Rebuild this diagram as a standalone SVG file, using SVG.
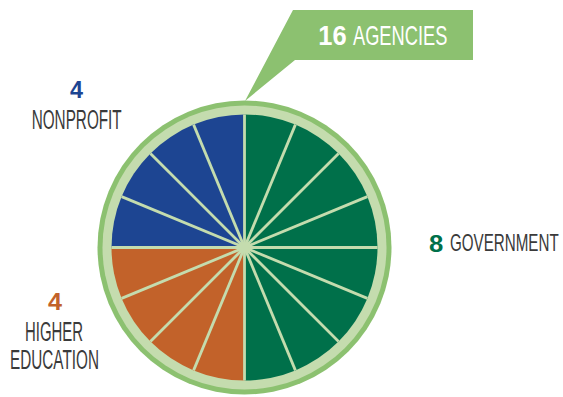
<svg xmlns="http://www.w3.org/2000/svg" width="563" height="397" viewBox="0 0 563 397">
  <style>
    .lbl { font-family: "Liberation Sans", "Noto Sans", Arial, sans-serif; fill: #3a3a3a; }
    .num { font-family: "Liberation Sans", "Noto Sans", Arial, sans-serif; font-weight: bold; }
    .spoke { stroke: #c4dcae; stroke-width: 2.8; }
    .green { fill: #00704a; }
    .blue { fill: #1d4592; }
    .orange { fill: #c2622a; }
  </style>
  <rect width="563" height="397" fill="#ffffff"/>

  <g id="callout">
    <polygon points="293,10 473,10 473,60 295,60 245,101" fill="#8cc170"/>
    <text class="num" x="318.3" y="45" font-size="28" fill="#ffffff" textLength="28.4" lengthAdjust="spacingAndGlyphs">16</text>
    <text class="lbl" x="353" y="45" font-size="28" style="fill:#ffffff" textLength="94.3" lengthAdjust="spacingAndGlyphs">AGENCIES</text>
  </g>

  <g id="wheel">
    <circle cx="244.5" cy="247.5" r="147" fill="#8cc170"/>
    <circle cx="244.5" cy="247.5" r="142" fill="#c4dcae"/>
    <path class="green" d="M244.5 114.5 A133 133 0 0 1 244.5 380.5 Z"/>
    <path class="orange" d="M244.5 247.5 L244.5 380.5 A133 133 0 0 1 111.5 247.5 Z"/>
    <path class="blue" d="M244.5 247.5 L111.5 247.5 A133 133 0 0 1 244.5 114.5 Z"/>
    <g id="spokes">
      <line class="spoke" x1="244.5" y1="114.5" x2="244.5" y2="380.5"/>
      <line class="spoke" x1="295.40" y1="124.62" x2="193.60" y2="370.38"/>
      <line class="spoke" x1="338.55" y1="153.45" x2="150.45" y2="341.55"/>
      <line class="spoke" x1="367.38" y1="196.60" x2="121.62" y2="298.40"/>
      <line class="spoke" x1="377.5" y1="247.5" x2="111.5" y2="247.5"/>
      <line class="spoke" x1="367.38" y1="298.40" x2="121.62" y2="196.60"/>
      <line class="spoke" x1="338.55" y1="341.55" x2="150.45" y2="153.45"/>
      <line class="spoke" x1="295.40" y1="370.38" x2="193.60" y2="124.62"/>
    </g>
    <circle cx="244.5" cy="247.5" r="5" fill="#c4dcae"/>
  </g>

  <g id="nonprofit">
    <text class="num blue" x="70" y="98" font-size="24" textLength="13" lengthAdjust="spacingAndGlyphs">4</text>
    <text class="lbl" x="31.7" y="129.3" font-size="27" textLength="90" lengthAdjust="spacingAndGlyphs">NONPROFIT</text>
  </g>

  <g id="higher-education">
    <text class="num orange" x="48" y="310" font-size="24" textLength="14" lengthAdjust="spacingAndGlyphs">4</text>
    <text class="lbl" x="25" y="341" font-size="27" textLength="58" lengthAdjust="spacingAndGlyphs">HIGHER</text>
    <text class="lbl" x="10" y="369" font-size="27" textLength="89" lengthAdjust="spacingAndGlyphs">EDUCATION</text>
  </g>

  <g id="government">
    <text class="num green" x="429" y="251.5" font-size="24" textLength="14.3" lengthAdjust="spacingAndGlyphs">8</text>
    <text class="lbl" transform="translate(450 251.3) scale(0.66 1)" x="0" y="0" font-size="23">GOVERNMENT</text>
  </g>

  <g id="connectors"/>
</svg>
